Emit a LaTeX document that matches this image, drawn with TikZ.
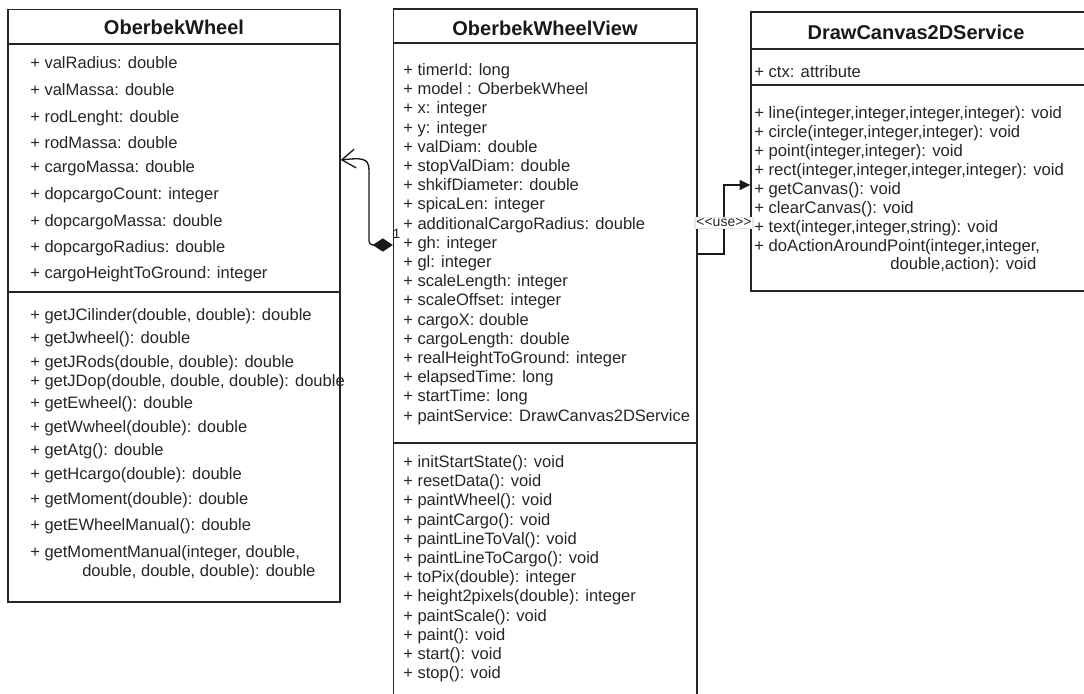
\documentclass[tikz,border=0pt]{standalone}
\usepackage{fontspec}
\setmainfont{Liberation Sans}
\usetikzlibrary{arrows.meta,fit}
\begin{document}
\begin{tikzpicture}[x=0.75pt,y=-0.75pt,
  box/.style={draw=black!85, line width=1pt, inner sep=0pt},
  sepline/.style={draw=black!85, line width=1pt},
  title/.style={font=\bfseries\fontsize{15}{18}\selectfont, anchor=base, inner sep=0pt, text=black!90},
  item/.style={font=\fontsize{12.4}{14.4}\selectfont, anchor=base west, inner sep=0pt, text=black!85},
  itemc/.style={item, font=\fontsize{12.5}{14.4}\selectfont},
  comp/.style={draw=black!90, line width=1pt, rounded corners=3pt,
    {Diamond[length=15pt,width=10pt]}-{Straight Barb[length=10pt,width=14pt]}},
  dep/.style={draw=black!90, line width=1pt, -{Triangle[length=8pt,width=7.5pt]}},
  uselbl/.style={font=\fontsize{10.5}{12}\selectfont, fill=white, draw=black!10, inner sep=1pt, text=black!85},
  multlbl/.style={font=\fontsize{10}{12}\selectfont, inner sep=0pt, text=black!90}]
\useasboundingbox (0,0) rectangle (1084,693);
\clip (0,0) rectangle (1084,693);
% boxes
\node[box, fit={(8,9.5)(340,602)}] (b1) {};
\node[box, fit={(393.5,9)(697,705)}] (b2) {};
\node[box, fit={(751,12)(1095,291)}] (b3) {};
\draw[sepline] (8,44) -- (340,44);
\draw[sepline] (8,292) -- (340,292);
\draw[sepline] (393.5,43) -- (697,43);
\draw[sepline] (393.5,443) -- (697,443);
\draw[sepline] (751,49) -- (1095,49);
\draw[sepline] (751,85) -- (1095,85);
% titles
\node[title] (t1) at (174,34) {OberbekWheel};
\node[title] (t2) at (545,35) {OberbekWheelView};
\node[title] (t3) at (916,39) {DrawCanvas2DService};
% OberbekWheel attributes
\foreach \y/\t [count=\i] in {68.5/{+ valRadius: double}, 95.5/{+ valMassa: double},
  122.5/{+ rodLenght: double}, 148.5/{+ rodMassa: double}, 172.5/{+ cargoMassa: double},
  199.5/{+ dopcargoCount: integer}, 226.5/{+ dopcargoMassa: double},
  252.5/{+ dopcargoRadius: double}, 278.5/{+ cargoHeightToGround: integer}}
  \node[item] (wa\i) at (30,\y) {\t};
% OberbekWheel methods
\foreach \y/\t [count=\i] in {320.5/{+ getJCilinder(double, double): double},
  343.5/{+ getJwheel(): double}, 367.5/{+ getJRods(double, double): double},
  386.5/{+ getJDop(double, double, double): double}, 408.5/{+ getEwheel(): double},
  432.5/{+ getWwheel(double): double}, 455.5/{+ getAtg(): double},
  479.5/{+ getHcargo(double): double}, 504.5/{+ getMoment(double): double},
  530.5/{+ getEWheelManual(): double}, 557.5/{+ getMomentManual(integer, double,}}
  \node[item] (wm\i) at (30,\y) {\t};
\node[item] (wm12) at (82,576.5) {double, double, double): double};
% OberbekWheelView attributes
\foreach \t [count=\i] in {{+ timerId: long}, {+ model : OberbekWheel}, {+ x: integer},
  {+ y: integer}, {+ valDiam: double}, {+ stopValDiam: double}, {+ shkifDiameter: double},
  {+ spicaLen: integer}, {+ additionalCargoRadius: double}, {+ gh: integer}, {+ gl: integer},
  {+ scaleLength: integer}, {+ scaleOffset: integer}, {+ cargoX: double},
  {+ cargoLength: double}, {+ realHeightToGround: integer}, {+ elapsedTime: long},
  {+ startTime: long}, {+ paintService: DrawCanvas2DService}}
  \node[item] (va\i) at (403,{75.5+19.2*(\i-1)}) {\t};
% OberbekWheelView methods
\foreach \t [count=\i] in {{+ initStartState(): void}, {+ resetData(): void},
  {+ paintWheel(): void}, {+ paintCargo(): void}, {+ paintLineToVal(): void},
  {+ paintLineToCargo(): void}, {+ toPix(double): integer},
  {+ height2pixels(double): integer}, {+ paintScale(): void}, {+ paint(): void},
  {+ start(): void}, {+ stop(): void}}
  \node[item] (vm\i) at (403,{467.5+19.2*(\i-1)}) {\t};
% DrawCanvas2DService
\node[itemc] (da1) at (754,77.5) {+ ctx: attribute};
\foreach \t [count=\i] in {{+ line(integer,integer,integer,integer): void},
  {+ circle(integer,integer,integer): void}, {+ point(integer,integer): void},
  {+ rect(integer,integer,integer,integer): void}, {+ getCanvas(): void},
  {+ clearCanvas(): void}, {+ text(integer,integer,string): void},
  {+ doActionAroundPoint(integer,integer,}}
  \node[itemc] (dm\i) at (754,{118.5+19*(\i-1)}) {\t};
\node[itemc] (dm9) at (890,269.5) {double,action): void};
% composition connector
\draw[comp] (b2.west |- 0,245) -- (369,245) -- (369,174)
  .. controls (369,157) and (360,158) .. (b1.east |- 0,160);
\node[multlbl] (mult) at (396.5,234) {1};
% dependency connector
\draw[dep] (b2.east |- 0,254) -- (724,254)
  -- node[uselbl, pos=0.45] (use) {<{}<use>{}>} (724,185)
  -- (b3.west |- 0,185);
\end{tikzpicture}
\end{document}
